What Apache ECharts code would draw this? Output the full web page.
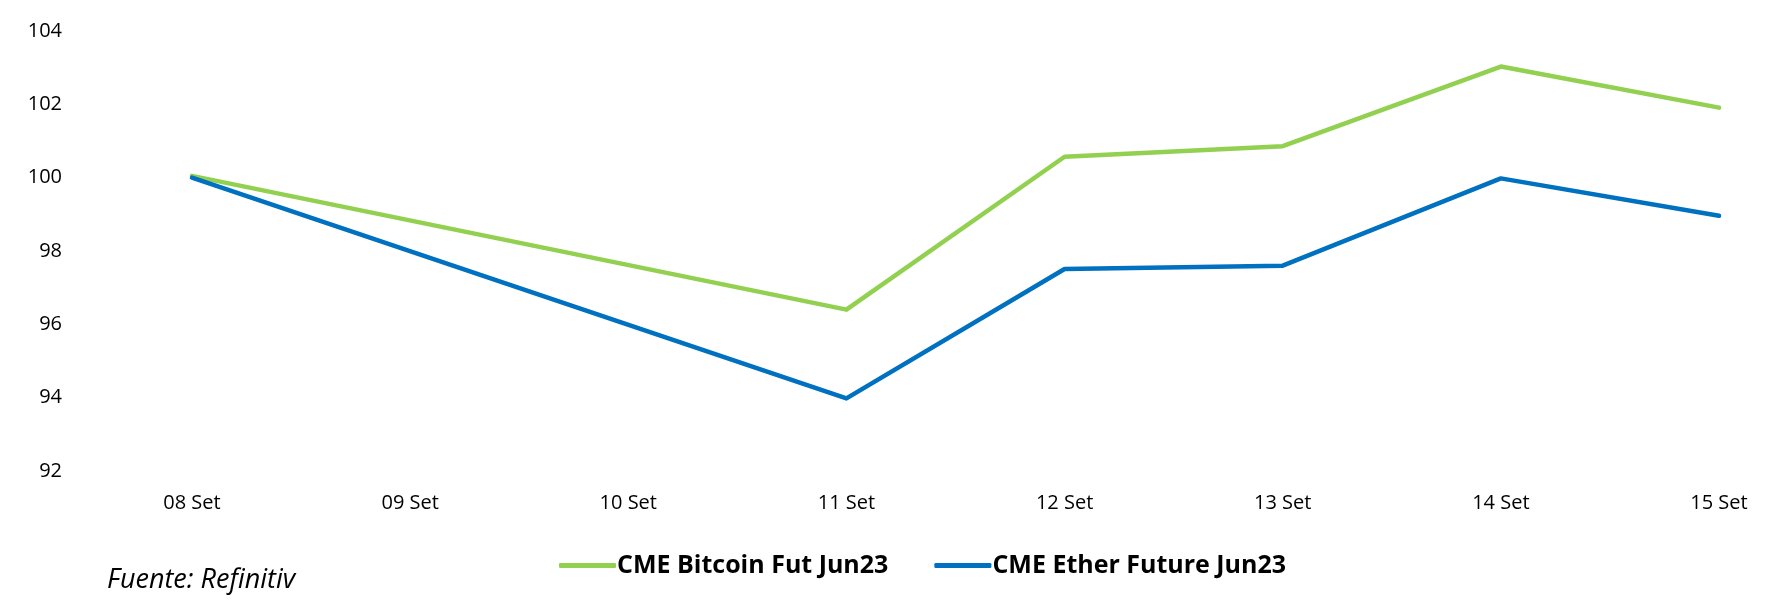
<!DOCTYPE html>
<html>
<head>
<meta charset="utf-8">
<script src="https://cdn.jsdelivr.net/npm/echarts@6/dist/echarts.min.js"></script>
<style>
  html, body { margin: 0; padding: 0; background: #fff; }
  #chart { width: 1786px; height: 602px; }
</style>
</head>
<body>
<div id="chart"></div>
<script>
// fechas (09 y 10 Set sin cotización, fin de semana)
var categories = ["08 Set", "09 Set", "10 Set", "11 Set", "12 Set", "13 Set", "14 Set", "15 Set"];
var bitcoin = [100.05, null, null, 96.4, 100.57, 100.86, 103.03, 101.91];
var ether = [100.0, null, null, 93.98, 97.51, 97.6, 99.98, 98.96];
var yTicks = [92, 94, 96, 98, 100, 102, 104];

var chart = echarts.init(document.getElementById("chart"));
var font = "'Open Sans', sans-serif";

chart.setOption({
  animation: false,
  grid: { left: 192, right: 67, top: 31, bottom: 131 },
  legend: {
    left: 554,
    top: 548,
    itemWidth: 57,
    itemHeight: 5,
    itemGap: 46,
    icon: "roundRect",
    textStyle: { fontFamily: font, fontSize: 25, fontWeight: "bold", color: "#000", padding: [0, 0, 0, -4] },
    data: ["CME Bitcoin Fut Jun23", "CME Ether Future Jun23"]
  },
  graphic: [{
    type: "text",
    left: 107,
    top: 567,
    style: { text: "Fuente: Refinitiv", font: "italic 27px 'Open Sans', sans-serif", fill: "#000" }
  }],
  xAxis: {
    type: "category",
    data: categories,
    boundaryGap: false,
    axisLine: { show: false },
    axisTick: { show: false },
    axisLabel: { fontFamily: font, fontSize: 20, color: "#000", margin: 22, lineHeight: 20 }
  },
  yAxis: {
    type: "value",
    min: yTicks[0],
    max: yTicks[yTicks.length - 1],
    interval: 2,
    splitLine: { show: false },
    axisLine: { show: false },
    axisTick: { show: false },
    axisLabel: { fontFamily: font, fontSize: 20, color: "#000", margin: 130 }
  },
  series: [
    {
      name: "CME Bitcoin Fut Jun23",
      type: "line",
      data: bitcoin,
      connectNulls: true,
      symbol: "none",
      color: "#92D050",
      lineStyle: { width: 4.5, cap: "round", join: "round" }
    },
    {
      name: "CME Ether Future Jun23",
      type: "line",
      data: ether,
      connectNulls: true,
      symbol: "none",
      color: "#0070C0",
      lineStyle: { width: 4.5, cap: "round", join: "round" }
    }
  ]
});
</script>
</body>
</html>
